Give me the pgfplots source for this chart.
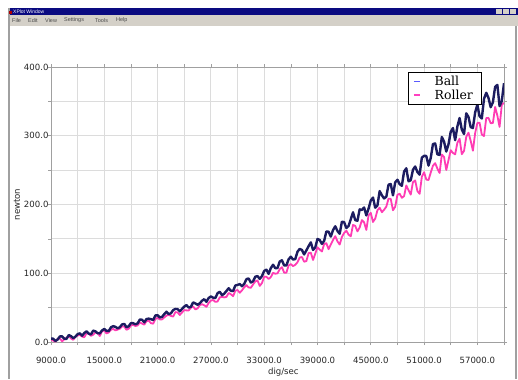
\documentclass[border=0pt]{standalone}
\usepackage{fontspec}
\setmainfont{DejaVu Sans}
\newfontfamily\legfont{DejaVu Serif}
\newfontfamily\winfont{Liberation Sans}
\usepackage{pgfplots}
\usepackage{pgfplotstable}
\pgfplotsset{compat=1.18}
\definecolor{titlenavy}{HTML}{0A0A80}
\definecolor{menugray}{HTML}{D4D0C8}
\definecolor{gridgray}{HTML}{DCDCDC}
\definecolor{axisgray}{HTML}{A0A0A0}
\definecolor{ballc}{HTML}{1C1C60}
\definecolor{rollerc}{HTML}{FF3CB4}
\definecolor{legball}{HTML}{5A5AFF}
\definecolor{legroller}{HTML}{FF40C0}

\pgfplotstableread{
x y
9000 5.0
9250 4.8
9500 1.5
9750 3.7
10000 8.1
10250 8.2
10500 4.7
10750 4.6
11000 10.1
11250 8.6
11500 5.6
11750 7.8
12000 11.5
12250 12.6
12500 9.2
12750 13.1
13000 15.6
13250 12.2
13500 11.0
13750 16.6
14000 15.5
14250 12.8
14500 12.6
14750 16.9
15000 19.0
15250 16.2
15500 16.0
15750 21.3
16000 23.1
16250 22.0
16500 20.0
16750 21.5
17000 25.6
17250 26.3
17500 21.4
17750 23.0
18000 27.5
18250 27.4
18500 25.7
18750 27.1
19000 32.6
19250 32.4
19500 28.6
19750 33.4
20000 34.0
20250 33.2
20500 31.9
20750 38.6
21000 39.0
21250 35.7
21500 36.5
21750 40.5
22000 44.1
22250 40.6
22500 41.7
22750 46.4
23000 48.1
23250 47.9
23500 44.6
23750 48.1
24000 51.5
24250 53.7
24500 50.2
24750 51.1
25000 57.6
25250 56.1
25500 54.1
25750 56.3
26000 60.0
26250 62.3
26500 58.4
26750 64.1
27000 66.2
27250 64.5
27500 63.8
27750 71.0
28000 73.1
28250 68.1
28500 70.3
28750 74.2
29000 78.2
29250 74.5
29500 74.1
29750 82.2
30000 83.0
30250 84.3
30500 81.1
30750 84.4
31000 91.4
31250 92.4
31500 86.5
31750 88.3
32000 95.0
32250 95.9
32500 91.8
32750 95.8
33000 103.4
33250 105.2
33500 99.1
33750 107.5
34000 112.4
34250 107.4
34500 107.6
34750 117.0
35000 118.9
35250 111.3
35500 111.5
35750 120.3
36000 124.1
36250 119.9
36500 120.7
36750 131.3
37000 135.5
37250 133.8
37500 127.4
37750 133.3
38000 139.4
38250 144.9
38500 133.9
38750 137.5
39000 149.9
39250 148.3
39500 142.7
39750 147.1
40000 160.8
40250 160.4
40500 153.3
40750 162.7
41000 168.3
41250 161.5
41500 157.4
41750 175.0
42000 174.4
42250 165.8
42500 168.7
42750 178.6
43000 188.7
43250 177.2
43500 176.4
43750 192.9
44000 192.2
44250 195.6
44500 184.1
44750 194.0
45000 205.8
45250 210.1
45500 195.3
45750 198.6
46000 219.5
46250 213.4
46500 208.8
46750 211.3
47000 228.9
47250 229.7
47500 213.3
47750 232.2
48000 236.0
48250 229.6
48500 227.2
48750 248.0
49000 252.7
49250 233.8
49500 235.3
49750 250.5
50000 255.3
50250 247.3
50500 243.4
50750 268.1
51000 270.8
51250 270.6
51500 256.6
51750 267.6
52000 287.9
52250 288.8
52500 272.9
52750 272.2
53000 298.2
53250 291.5
53500 277.0
53750 287.5
54000 305.7
54250 311.2
54500 293.6
54750 313.5
55000 325.8
55250 309.0
55500 302.6
55750 332.6
56000 327.4
56250 312.6
56500 311.3
56750 333.8
57000 345.4
57250 328.2
57500 325.1
57750 353.9
58000 362.5
58250 355.1
58500 341.5
58750 348.7
59000 371.1
59250 374.0
59500 343.1
59750 350.3
60000 376.4
}\balltable

\pgfplotstableread{
x y
9000 3.8
9250 1.9
9500 0.5
9750 4.7
10000 5.0
10250 1.1
10500 3.8
10750 6.3
11000 8.4
11250 5.2
11500 3.2
11750 7.4
12000 9.4
12250 10.4
12500 8.0
12750 6.9
13000 12.8
13250 12.0
13500 9.0
13750 10.6
14000 14.0
14250 12.7
14500 8.8
14750 15.7
15000 16.8
15250 12.4
15500 14.0
15750 17.8
16000 19.0
16250 16.9
16500 18.0
16750 19.3
17000 22.8
17250 22.5
17500 17.8
17750 19.3
18000 24.2
18250 24.8
18500 23.3
18750 24.1
19000 28.5
19250 26.8
19500 25.2
19750 30.3
20000 31.1
20250 27.4
20500 26.6
20750 33.3
21000 35.3
21250 32.8
21500 32.9
21750 35.7
22000 38.4
22250 39.5
22500 38.0
22750 37.0
23000 43.5
23250 43.1
23500 39.3
23750 42.9
24000 46.4
24250 46.0
24500 45.9
24750 49.9
25000 51.7
25250 47.4
25500 48.8
25750 53.5
26000 55.1
26250 53.4
26500 51.2
26750 56.8
27000 60.3
27250 61.1
27500 58.4
27750 58.9
28000 64.9
28250 65.7
28500 64.9
28750 65.6
29000 71.3
29250 69.5
29500 66.6
29750 74.6
30000 75.6
30250 71.6
30500 75.1
30750 79.5
31000 82.7
31250 79.3
31500 78.9
31750 83.8
32000 88.1
32250 89.6
32500 81.6
32750 85.7
33000 95.0
33250 94.9
33500 91.6
33750 94.5
34000 100.6
34250 99.3
34500 99.9
34750 105.9
35000 108.9
35250 100.8
35500 100.9
35750 111.3
36000 113.3
36250 110.4
36500 112.3
36750 116.0
37000 122.9
37250 123.6
37500 116.8
37750 117.7
38000 129.3
38250 129.9
38500 119.3
38750 128.4
39000 137.8
39250 134.4
39500 131.7
39750 142.4
40000 143.7
40250 135.0
40500 141.8
40750 148.4
41000 154.0
41250 146.4
41500 141.7
41750 152.8
42000 158.6
42250 161.9
42500 156.2
42750 153.7
43000 170.3
43250 168.9
43500 160.9
43750 166.6
44000 177.3
44250 174.0
44500 163.0
44750 184.2
45000 187.9
45250 174.6
45500 179.4
45750 191.6
46000 195.3
46250 188.8
46500 192.4
46750 196.9
47000 208.5
47250 208.1
47500 191.6
47750 196.8
48000 214.0
48250 215.7
48500 209.7
48750 212.1
49000 227.7
49250 220.7
49500 214.3
49750 232.6
50000 235.0
50250 219.6
50500 215.5
50750 240.3
51000 247.0
51250 236.3
51500 235.6
51750 246.4
52000 256.4
52250 260.2
52500 252.2
52750 245.9
53000 272.7
53250 269.2
53500 250.2
53750 264.5
54000 279.0
54250 275.0
54500 272.9
54750 289.8
55000 295.7
55250 273.2
55500 278.0
55750 298.4
56000 304.5
56250 292.6
56500 278.3
56750 303.7
57000 318.6
57250 319.0
57500 301.7
57750 299.6
58000 325.7
58250 326.0
58500 318.3
58750 318.5
59000 341.9
59250 329.4
59500 312.9
59750 345.2
60000 347.8
}\rollertable

\begin{document}
\begin{tikzpicture}[x=1bp,y=1bp]
\useasboundingbox (0,0) rectangle (518,379);
% window chrome
\fill[white] (0,0) rectangle (518,379);
\fill[titlenavy] (8,364) rectangle (518,371);
\fill[menugray] (8,353) rectangle (518,364);
\fill[axisgray] (8,0) rectangle (10,371);
\fill[axisgray] (515,0) rectangle (517,353);
\fill[red!70!black] (9,364.5) rectangle (12,368);
\node[anchor=west, text=white, font=\winfont\fontsize{5}{5}\selectfont, inner sep=0pt] at (13,367.5) {XPlot Window};
\foreach \bx in {496,503,510}{
  \fill[menugray] (\bx,365) rectangle (\bx+6,370);
}
\foreach \mx/\mt in {12/File,28/Edit,45/View,64/Settings,95/Tools,116/Help}{
  \node[anchor=west, text=black!70, font=\winfont\fontsize{5.5}{5.5}\selectfont, inner sep=0pt] at (\mx,358.5) {\mt};
}
\begin{axis}[
  at={(51bp,37bp)}, anchor=south west,
  scale only axis, width=453bp, height=275bp,
  xmin=9000, xmax=60000, ymin=0, ymax=400,
  xtick={9000,15000,21000,27000,33000,39000,45000,51000,57000},
  xticklabels={9000.0,15000.0,21000.0,27000.0,33000.0,39000.0,45000.0,51000.0,57000.0},
  minor xtick={12000,18000,24000,30000,36000,42000,48000,54000,60000},
  ytick={0,100,200,300,400},
  yticklabels={0.0,100.0,200.0,300.0,400.0},
  minor ytick={50,150,250,350},
  scaled x ticks=false,
  grid=both,
  grid style={gridgray, line width=0.8bp},
  minor grid style={gridgray, line width=0.8bp},
  axis line style={axisgray, line width=0.8bp},
  tick style={axisgray, line width=0.6bp},
  tick align=outside,
  major tick length=3bp, minor tick length=3bp,
  ticklabel style={font=\fontsize{8.6}{10}\selectfont, text=black!85},
  xticklabel style={yshift=-9bp},
  yticklabel style={xshift=4bp},
  xlabel={dig/sec},
  ylabel={newton},
  label style={font=\fontsize{8.6}{10}\selectfont, text=black!85},
  xlabel style={at={(axis description cs:0.513,0)}, anchor=center, yshift=-30bp},
  ylabel style={at={(axis description cs:-0.075,0.5)}, anchor=center},
  legend style={at={(rel axis cs:0.788,0.982)}, anchor=north west,
    draw=black, line width=0.6bp, fill=white,
    font=\legfont\fontsize{12.5}{12.5}\selectfont,
    inner xsep=5bp, inner ysep=1.5bp, row sep=-1bp,
    nodes={inner xsep=3bp},
    /tikz/every odd column/.append style={column sep=11bp}},
  legend cell align=left,
  legend image code/.code={\draw[#1, line width=1.4bp] (0bp,0pt) -- (6bp,0pt);},
  every axis plot/.append style={line join=round},
]
\addlegendimage{legball}
\addlegendentry{Ball}
\addlegendimage{legroller}
\addlegendentry{Roller}
\addplot[rollerc, line width=1.8bp, forget plot] table[x=x,y=y] {\rollertable};
\addplot[ballc, line width=2.4bp, forget plot] table[x=x,y=y] {\balltable};
\end{axis}
\end{tikzpicture}
\end{document}
